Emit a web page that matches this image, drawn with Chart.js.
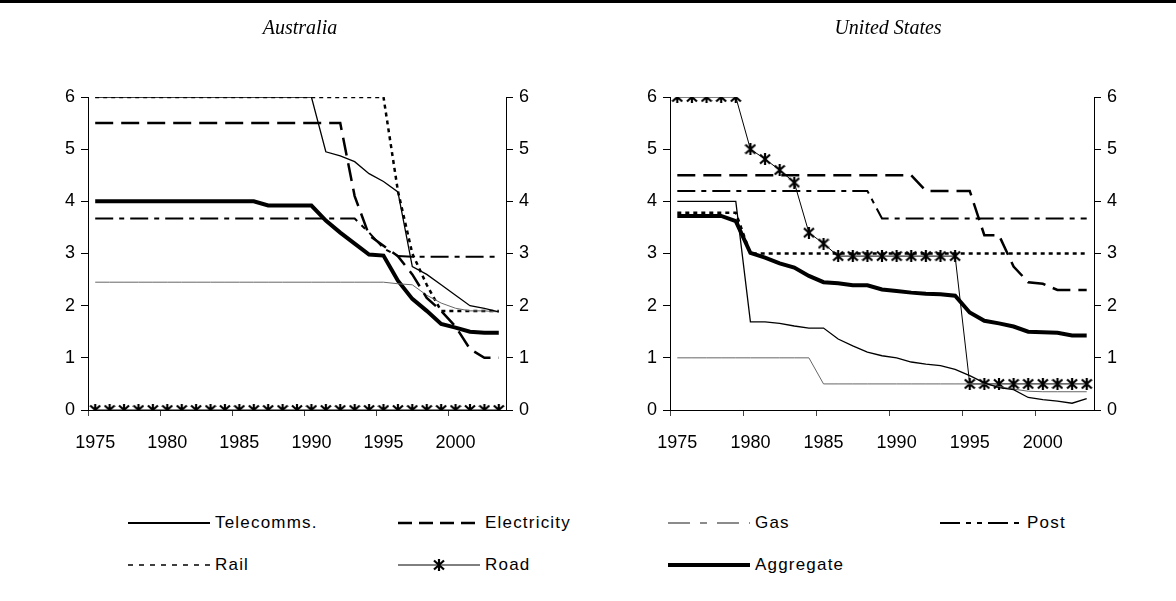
<!DOCTYPE html>
<html>
<head>
<meta charset="utf-8">
<script src="https://cdn.jsdelivr.net/npm/chart.js@4.4.0/dist/chart.umd.min.js"></script>
<style>
body{margin:0;background:#fff;width:1176px;height:601px;position:relative;overflow:hidden;font-family:'Liberation Sans',Arial,sans-serif}
#rule{position:absolute;left:0;top:0;width:1176px;height:3px;background:#000}
#au{position:absolute;left:0;top:0}
#us{position:absolute;left:600px;top:0}
.item{position:absolute;display:flex;align-items:center;height:20px;font-size:17px;letter-spacing:1.2px;color:#000;white-space:nowrap}
.item canvas{margin-right:5px}
</style>
</head>
<body>
<div id="rule"></div>
<canvas id="au" width="600" height="470"></canvas>
<canvas id="us" width="576" height="470"></canvas>
<div id="legend"></div>
<script>
// categories
const years = ['1975','1976','1977','1978','1979','1980','1981','1982','1983','1984',
  '1985','1986','1987','1988','1989','1990','1991','1992','1993','1994',
  '1995','1996','1997','1998','1999','2000','2001','2002','2003'];
const seriesNames = ['Telecomms.','Electricity','Gas','Post','Rail','Road','Aggregate'];
const yTicks = [0,1,2,3,4,5,6];

// Australia
const auTelecom = [6,6,6,6,6,6,6,6,6,6,6,6,6,6,6,6,4.95,4.87,4.76,4.53,4.38,4.18,2.75,2.6,2.4,2.2,2.0,1.95,1.88];
const auElec = [5.5,5.5,5.5,5.5,5.5,5.5,5.5,5.5,5.5,5.5,5.5,5.5,5.5,5.5,5.5,5.5,5.5,5.5,4.1,3.35,3.15,2.95,2.6,2.15,1.9,1.6,1.17,1.0,1.0];
const auGas = [2.45,2.45,2.45,2.45,2.45,2.45,2.45,2.45,2.45,2.45,2.45,2.45,2.45,2.45,2.45,2.45,2.45,2.45,2.45,2.45,2.45,2.42,2.4,2.2,2.05,1.95,1.9,1.9,1.88];
const auPost = [3.67,3.67,3.67,3.67,3.67,3.67,3.67,3.67,3.67,3.67,3.67,3.67,3.67,3.67,3.67,3.67,3.67,3.67,3.67,3.4,3.1,2.95,2.94,2.94,2.94,2.94,2.94,2.94,2.94];
const auRail = [6,6,6,6,6,6,6,6,6,6,6,6,6,6,6,6,6,6,6,6,6,4.2,3.0,2.4,1.9,1.9,1.9,1.9,1.9];
const auRoad = [0,0,0,0,0,0,0,0,0,0,0,0,0,0,0,0,0,0,0,0,0,0,0,0,0,0,0,0,0];
const auAggr = [4,4,4,4,4,4,4,4,4,4,4,4,3.92,3.92,3.92,3.92,3.63,3.4,3.19,2.98,2.96,2.48,2.13,1.9,1.65,1.58,1.5,1.48,1.48];

// United States
const usTelecom = [4,4,4,4,4,1.69,1.69,1.66,1.61,1.57,1.57,1.36,1.23,1.11,1.04,1.0,0.92,0.88,0.85,0.78,0.66,0.52,0.43,0.39,0.24,0.2,0.17,0.13,0.22];
const usElec = [4.5,4.5,4.5,4.5,4.5,4.5,4.5,4.5,4.5,4.5,4.5,4.5,4.5,4.5,4.5,4.5,4.5,4.2,4.2,4.2,4.2,3.35,3.35,2.75,2.45,2.42,2.3,2.3,2.3];
const usGas = [1,1,1,1,1,1,1,1,1,1,0.5,0.5,0.5,0.5,0.5,0.5,0.5,0.5,0.5,0.5,0.5,0.5,0.45,0.4,0.36,0.35,0.35,0.35,0.35];
const usPost = [4.2,4.2,4.2,4.2,4.2,4.2,4.2,4.2,4.2,4.2,4.2,4.2,4.2,4.2,3.67,3.67,3.67,3.67,3.67,3.67,3.67,3.67,3.67,3.67,3.67,3.67,3.67,3.67,3.67];
const usRail = [3.78,3.78,3.78,3.78,3.78,3,3,3,3,3,3,3,3,3,3,3,3,3,3,3,3,3,3,3,3,3,3,3,3];
const usRoad = [6,6,6,6,6,5.0,4.81,4.6,4.36,3.4,3.19,2.95,2.95,2.95,2.95,2.95,2.95,2.95,2.95,2.95,0.5,0.5,0.5,0.5,0.5,0.5,0.5,0.5,0.5];
const usAggr = [3.72,3.72,3.72,3.72,3.62,3.01,2.92,2.81,2.73,2.57,2.45,2.43,2.39,2.39,2.31,2.28,2.25,2.23,2.22,2.19,1.87,1.71,1.66,1.6,1.5,1.49,1.48,1.43,1.43];

// line looks
const look = {
  'Telecomms.': {color:'#000', width:1.3, dash:[], legendWidth:2},
  'Electricity': {color:'#000', width:2.5, dash:[18,8], legendDash:[14,7]},
  'Gas': {color:'#666', width:1, dash:[], legendDash:[22,10,7,10], legendWidth:1.5},
  'Post': {color:'#000', width:2, dash:[18,6,5,6], legendDash:[20,6,5,6,5,6]},
  'Rail': {color:'#000', width:2.5, dash:[4,4], legendDash:[5,6], legendWidth:1.5},
  'Road': {color:'#000', width:1, dash:[], star:true},
  'Aggregate': {color:'#000', width:4, dash:[]}
};

function makeStar() {
  const c = document.createElement('canvas');
  c.width = 12; c.height = 12;
  const g = c.getContext('2d');
  g.strokeStyle = '#000';
  g.lineWidth = 2.2;
  g.beginPath();
  g.moveTo(6, 0); g.lineTo(6, 12);
  g.moveTo(1, 1.5); g.lineTo(11, 10.5);
  g.moveTo(11, 1.5); g.lineTo(1, 10.5);
  g.stroke();
  return c;
}
const star = makeStar();

const tickFont = {family:"'Liberation Sans', Arial, sans-serif", size:18};

function yAxis(pos, w) {
  return {
    position: pos, min: 0, max: 6,
    afterBuildTicks: s => { s.ticks = yTicks.map(v => ({value: v})); },
    afterFit: s => { s.width = w; },
    grid: {drawOnChartArea: false, tickLength: 7, color: '#000', tickColor: '#000'},
    border: {display: true, color: '#000', width: 1},
    ticks: {color: '#000', font: tickFont, padding: 6}
  };
}

function buildChart(id, title, rows, leftW, rightW) {
  const datasets = seriesNames.map((n, k) => {
    const s = look[n];
    return {
      label: n, data: rows[k],
      borderColor: s.color, backgroundColor: s.color,
      borderWidth: s.width, borderDash: s.dash,
      pointStyle: s.star ? star : false,
      pointRadius: s.star ? 6 : 0, pointHoverRadius: 0,
      tension: 0, fill: false, yAxisID: 'y'
    };
  });
  return new Chart(document.getElementById(id), {
    type: 'line',
    data: {labels: years, datasets: datasets},
    options: {
      responsive: false, animation: false, events: [],
      layout: {padding: 0},
      plugins: {
        legend: {display: false}, tooltip: {enabled: false},
        title: {
          display: true, text: title, color: '#000',
          font: {family: "'Liberation Serif', 'Times New Roman', serif", style: 'italic', weight: 'normal', size: 20},
          padding: {top: 17, bottom: 56}
        }
      },
      scales: {
        x: {
          offset: true,
          afterFit: s => { s.height = 60; },
          grid: {
            offset: true, drawOnChartArea: false, tickLength: 6,
            color: c => c.index % 5 === 0 ? '#000' : 'rgba(0,0,0,0)',
            tickColor: c => c.index % 5 === 0 ? '#444' : 'rgba(0,0,0,0)'
          },
          border: {display: true, color: '#000', width: 1},
          ticks: {
            autoSkip: false, maxRotation: 0, color: '#000', font: tickFont, padding: 16,
            callback: (v, i) => i % 5 === 0 ? years[i] : ''
          }
        },
        y: yAxis('left', leftW),
        y2: yAxis('right', rightW)
      }
    }
  });
}

const auChart = buildChart('au', 'Australia',
  [auTelecom, auElec, auGas, auPost, auRail, auRoad, auAggr], 88, 94);
buildChart('us', 'United States',
  [usTelecom, usElec, usGas, usPost, usRail, usRoad, usAggr], 70, 82);

// legend, built from the chart's datasets
const legendCols = [128, 398, 668, 940];
const legendRows = [523, 565];
const legend = document.getElementById('legend');
auChart.data.datasets.forEach((d, i) => {
  const s = look[d.label];
  const item = document.createElement('div');
  item.className = 'item';
  item.style.left = legendCols[i % 4] + 'px';
  item.style.top = (legendRows[Math.floor(i / 4)] - 10) + 'px';
  const c = document.createElement('canvas');
  c.width = 82; c.height = 14;
  const g = c.getContext('2d');
  g.strokeStyle = s.color;
  g.lineWidth = s.legendWidth || s.width;
  g.setLineDash(s.legendDash || s.dash);
  g.beginPath(); g.moveTo(0, 7); g.lineTo(82, 7); g.stroke();
  if (s.star) g.drawImage(star, 41 - 6, 7 - 6);
  const t = document.createElement('span');
  t.textContent = d.label;
  item.appendChild(c);
  item.appendChild(t);
  legend.appendChild(item);
});
</script>
</body>
</html>
